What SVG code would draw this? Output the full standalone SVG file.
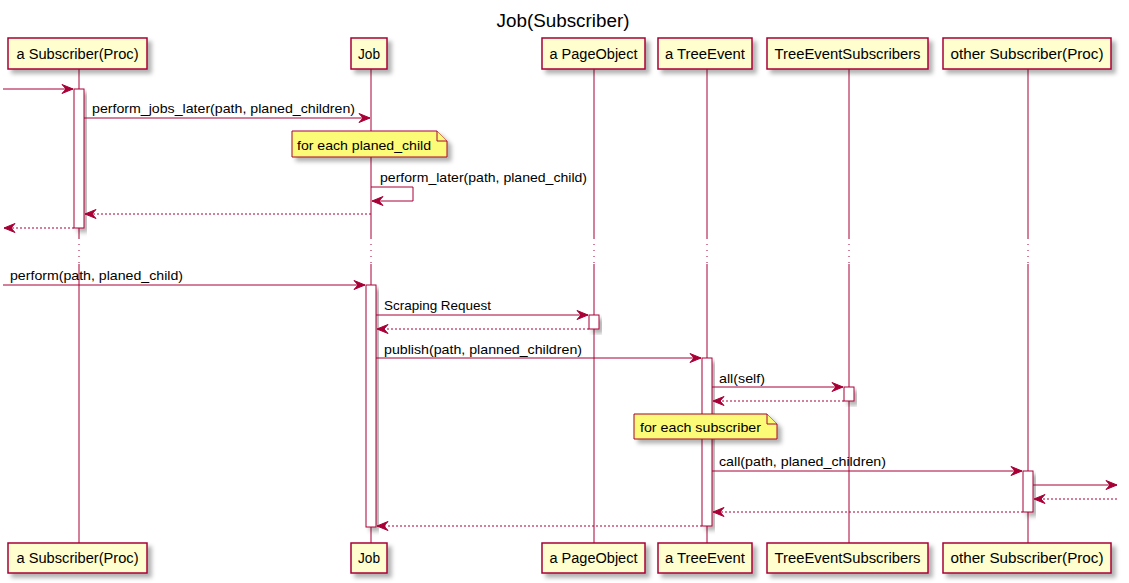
<svg xmlns="http://www.w3.org/2000/svg" width="1129" height="583" viewBox="0 0 1129 583">
<style>
text{font-family:"Liberation Sans","DejaVu Sans",Arial,sans-serif;fill:#000}
.title{font-size:18px}
.pt{font-size:14px;text-anchor:middle}
.msg{font-size:13px}
.box{fill:#FEFECE;stroke:#A80036;stroke-width:1.5;filter:url(#sh)}
.act{fill:#FFFFFF;stroke:#A80036;stroke-width:1;filter:url(#sh)}
.life{stroke:#A80036;stroke-width:1;fill:none}
.dot{stroke:#A80036;stroke-width:1;stroke-dasharray:1,5;fill:none}
.note{fill:#FBFB77;stroke:#A80036;stroke-width:1}
.a{stroke:#A80036;stroke-width:1;fill:none;marker-end:url(#ah)}
.r{stroke:#A80036;stroke-width:1;fill:none;stroke-dasharray:2,2;marker-end:url(#ah)}
</style>
<defs>
<filter id="sh" x="-20%" y="-20%" width="150%" height="160%">
<feDropShadow dx="4" dy="4" stdDeviation="2" flood-color="#000" flood-opacity="0.3"/>
</filter>
<marker id="ah" markerUnits="userSpaceOnUse" markerWidth="12" markerHeight="10" refX="11" refY="4.5" orient="auto" overflow="visible">
<polygon points="0,0 11,4.5 0,9 4,4.5" fill="#A80036" stroke="#A80036" stroke-width="1" stroke-linejoin="miter"/>
</marker>
</defs>
<rect width="1129" height="583" fill="#FFFFFF"/>
<text class="title" x="563" y="27" text-anchor="middle" textLength="133" lengthAdjust="spacingAndGlyphs">Job(Subscriber)</text>

<g id="lifelines">
<path class="life" d="M79,69V238M79,264V543"/><path class="dot" d="M79,238V264"/>
<path class="life" d="M371,69V238M371,264V543"/><path class="dot" d="M371,238V264"/>
<path class="life" d="M594,69V238M594,264V543"/><path class="dot" d="M594,238V264"/>
<path class="life" d="M707,69V238M707,264V543"/><path class="dot" d="M707,238V264"/>
<path class="life" d="M849,69V238M849,264V543"/><path class="dot" d="M849,238V264"/>
<path class="life" d="M1028,69V238M1028,264V543"/><path class="dot" d="M1028,238V264"/>
</g>

<g id="p-subscriber">
<rect class="box" x="8" y="38" width="139" height="31"/>
<text class="pt" x="77.5" y="59" textLength="122" lengthAdjust="spacingAndGlyphs">a Subscriber(Proc)</text>
<rect class="box" x="8" y="543" width="139" height="30"/>
<text class="pt" x="77.5" y="563" textLength="122" lengthAdjust="spacingAndGlyphs">a Subscriber(Proc)</text>
</g>
<g id="p-job">
<rect class="box" x="351" y="38" width="36" height="31"/>
<text class="pt" x="369" y="59" textLength="22" lengthAdjust="spacingAndGlyphs">Job</text>
<rect class="box" x="351" y="543" width="36" height="30"/>
<text class="pt" x="369" y="563" textLength="22" lengthAdjust="spacingAndGlyphs">Job</text>
</g>
<g id="p-pageobject">
<rect class="box" x="542" y="38" width="103" height="31"/>
<text class="pt" x="593.5" y="59" textLength="88" lengthAdjust="spacingAndGlyphs">a PageObject</text>
<rect class="box" x="542" y="543" width="103" height="30"/>
<text class="pt" x="593.5" y="563" textLength="88" lengthAdjust="spacingAndGlyphs">a PageObject</text>
</g>
<g id="p-treeevent">
<rect class="box" x="658" y="38" width="94" height="31"/>
<text class="pt" x="705" y="59" textLength="80" lengthAdjust="spacingAndGlyphs">a TreeEvent</text>
<rect class="box" x="658" y="543" width="94" height="30"/>
<text class="pt" x="705" y="563" textLength="80" lengthAdjust="spacingAndGlyphs">a TreeEvent</text>
</g>
<g id="p-tes">
<rect class="box" x="767" y="38" width="161" height="31"/>
<text class="pt" x="847.5" y="59" textLength="146" lengthAdjust="spacingAndGlyphs">TreeEventSubscribers</text>
<rect class="box" x="767" y="543" width="161" height="30"/>
<text class="pt" x="847.5" y="563" textLength="146" lengthAdjust="spacingAndGlyphs">TreeEventSubscribers</text>
</g>
<g id="p-other">
<rect class="box" x="943" y="38" width="168" height="31"/>
<text class="pt" x="1027" y="59" textLength="153" lengthAdjust="spacingAndGlyphs">other Subscriber(Proc)</text>
<rect class="box" x="943" y="543" width="168" height="30"/>
<text class="pt" x="1027" y="563" textLength="153" lengthAdjust="spacingAndGlyphs">other Subscriber(Proc)</text>
</g>

<g id="activations">
<rect class="act" x="74" y="89" width="10" height="139"/>
<rect class="act" x="366" y="285" width="10" height="242"/>
<rect class="act" x="589" y="315" width="10" height="14"/>
<rect class="act" x="702" y="358" width="10" height="168"/>
<rect class="act" x="844" y="387" width="10" height="14"/>
<rect class="act" x="1023" y="471" width="10" height="41"/>
</g>

<g id="note-planed-child">
<path class="note" d="M292,131H437L447,141V157H292Z" filter="url(#sh)"/>
<path class="note" d="M437,131V141H447"/>
<text class="msg" x="297" y="150" textLength="134" lengthAdjust="spacingAndGlyphs">for each planed_child</text>
</g>
<g id="note-subscriber">
<path class="note" d="M634,414H767L777,424V439H634Z" filter="url(#sh)"/>
<path class="note" d="M767,414V424H777"/>
<text class="msg" x="640" y="432" textLength="121" lengthAdjust="spacingAndGlyphs">for each subscriber</text>
</g>

<g id="connectors">
<line class="a" x1="3" y1="89" x2="73" y2="89"/>
<line class="a" x1="84" y1="118" x2="370" y2="118"/>
<text class="msg" x="92" y="113" textLength="263" lengthAdjust="spacingAndGlyphs">perform_jobs_later(path, planed_children)</text>
<polyline class="a" points="371,187 413,187 413,201 372,201"/>
<text class="msg" x="380" y="182" textLength="207" lengthAdjust="spacingAndGlyphs">perform_later(path, planed_child)</text>
<line class="r" x1="371" y1="214" x2="85" y2="214"/>
<line class="r" x1="74" y1="228" x2="4" y2="228"/>
<line class="a" x1="3" y1="285" x2="365" y2="285"/>
<text class="msg" x="10" y="280" textLength="173" lengthAdjust="spacingAndGlyphs">perform(path, planed_child)</text>
<line class="a" x1="376" y1="315" x2="588" y2="315"/>
<text class="msg" x="384" y="310" textLength="107" lengthAdjust="spacingAndGlyphs">Scraping Request</text>
<line class="r" x1="589" y1="329" x2="377" y2="329"/>
<line class="a" x1="376" y1="358" x2="701" y2="358"/>
<text class="msg" x="384" y="354" textLength="198" lengthAdjust="spacingAndGlyphs">publish(path, planned_children)</text>
<line class="a" x1="712" y1="387" x2="843" y2="387"/>
<text class="msg" x="719" y="383" textLength="46" lengthAdjust="spacingAndGlyphs">all(self)</text>
<line class="r" x1="844" y1="401" x2="713" y2="401"/>
<line class="a" x1="712" y1="471" x2="1022" y2="471"/>
<text class="msg" x="719" y="466" textLength="167" lengthAdjust="spacingAndGlyphs">call(path, planed_children)</text>
<line class="a" x1="1033" y1="485" x2="1117" y2="485"/>
<line class="r" x1="1117" y1="499" x2="1034" y2="499"/>
<line class="r" x1="1023" y1="512" x2="713" y2="512"/>
<line class="r" x1="702" y1="526" x2="377" y2="526"/>
</g>
</svg>
